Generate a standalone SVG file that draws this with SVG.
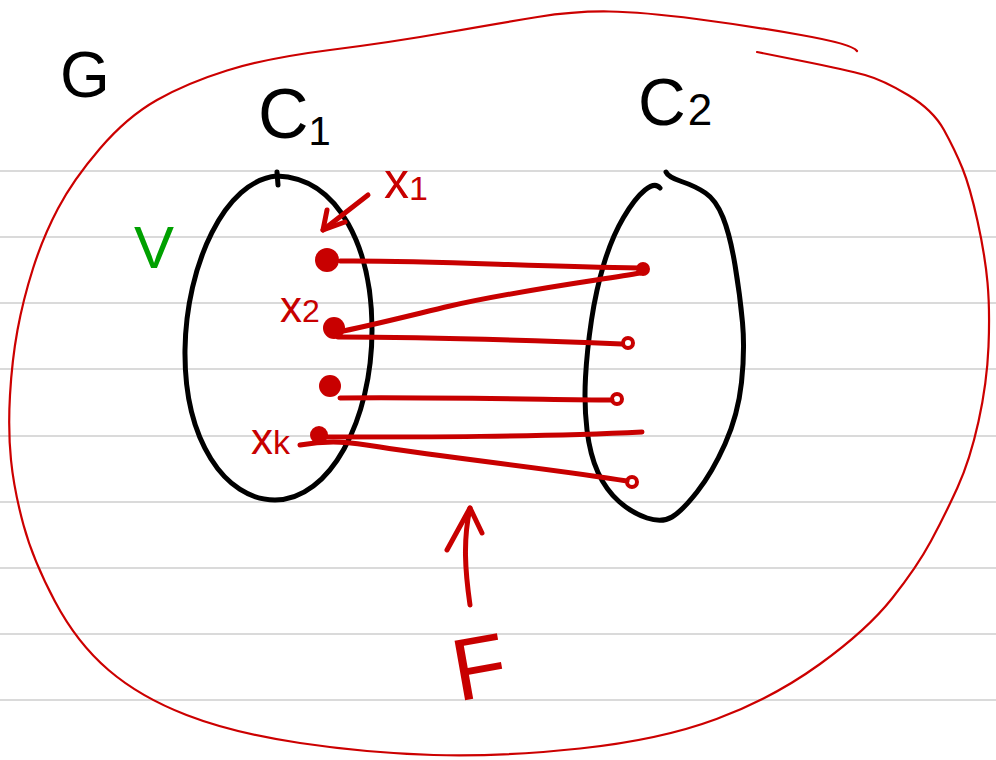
<svg xmlns="http://www.w3.org/2000/svg" width="996" height="760" viewBox="0 0 996 760">
<style>
.rule{stroke:#dadada;stroke-width:2.2;fill:none}
.outline{stroke:#cc0000;stroke-width:2.2;fill:none;stroke-linecap:round;stroke-linejoin:round}
.set{stroke:#000;stroke-width:5;fill:none;stroke-linecap:round;stroke-linejoin:round}
.edge{stroke:#c80000;stroke-width:5;fill:none;stroke-linecap:round;stroke-linejoin:round}
.loop{stroke:#c80000;stroke-width:4;fill:none}
.dot{fill:#c80000}
.blk{font-family:"Liberation Sans",Arial,sans-serif;fill:#000}
.red{font-family:"Liberation Sans",Arial,sans-serif;fill:#c80000}
.grn{font-family:"Liberation Sans",Arial,sans-serif;fill:#00a000}
</style>
<rect width="996" height="760" fill="#fff"/>
<g id="paper-rules">
<line class="rule" x1="0" y1="171" x2="996" y2="171"/>
<line class="rule" x1="0" y1="237" x2="996" y2="237"/>
<line class="rule" x1="0" y1="303" x2="996" y2="303"/>
<line class="rule" x1="0" y1="369" x2="996" y2="369"/>
<line class="rule" x1="0" y1="436" x2="996" y2="436"/>
<line class="rule" x1="0" y1="502" x2="996" y2="502"/>
<line class="rule" x1="0" y1="568" x2="996" y2="568"/>
<line class="rule" x1="0" y1="634" x2="996" y2="634"/>
<line class="rule" x1="0" y1="700" x2="996" y2="700"/>
</g>
<g id="graph-G">
<path class="outline" d="M857 51 Q852 44 801 35 Q750 26 696.5 19 Q643 12 609 11.5 Q575 11 537.5 17 Q500 23 446.5 32.5 Q393 42 330 50 Q267 58 227 70.5 Q187 83 157 100 Q127 117 100 148.5 Q73 180 58 208.5 Q43 237 33 268.5 Q23 300 17.5 330 Q12 360 10 395 Q8 430 11 460 Q14 490 23.5 525 Q33 560 55 601.5 Q77 643 108.5 670 Q140 697 186.5 715 Q233 733 300 743 Q367 753 433.5 755 Q500 757 580 748.5 Q660 740 716.5 719 Q773 698 820 664 Q867 630 892 598.5 Q917 567 931 541 Q945 515 957.5 487.5 Q970 460 978.5 421.5 Q987 383 988.5 346.5 Q990 310 987.5 282.5 Q985 255 977.5 221 Q970 187 962.5 168.5 Q955 150 944 130 Q933 110 908 95 Q883 80 865 75 Q847 70 802 61 L757 52"/>
<text class="blk" x="60" y="97" font-size="64">G</text>
<text class="grn" x="134" y="268" font-size="60">V</text>
</g>
<g id="C1">
<path class="set" d="M277 176 C225 180 186 265 185 350 C184 440 225 500 275 500 C330 500 372 420 372 330 C372 250 340 178 277 176 Z"/>
<path class="set" d="M277 172 L278 185"/>
<text class="blk" x="258" y="138" font-size="70">C<tspan font-size="40" dy="7">1</tspan></text>
</g>
<g id="C2">
<path class="set" d="M660 188 Q655 182 645 190 Q635 198 623.5 217.5 Q612 237 604 263.5 Q596 290 591.5 320 Q587 350 585.5 377.5 Q584 405 587 430 Q590 455 598 472.5 Q606 490 619 501.5 Q632 513 647 518 Q662 523 672 517 Q682 511 697 492 Q712 473 725 444 Q738 415 741.5 382.5 Q745 350 742.5 322.5 Q740 295 735 265 Q730 235 723 217.5 Q716 200 705.5 193 Q695 186 681.5 181.5 Q668 177 666 172"/>
<text class="blk" x="638" y="125" font-size="66">C<tspan font-size="44" dx="2">2</tspan></text>
</g>
<g id="vertices">
<g id="x1"><circle class="dot" cx="327" cy="260" r="12"/><text class="red" x="384" y="198" font-size="50">x<tspan font-size="34" dy="2">1</tspan></text></g>
<g id="x2"><circle class="dot" cx="334" cy="328" r="11"/><text class="red" x="280" y="322" font-size="44">x<tspan font-size="32">2</tspan></text></g>
<g id="x3"><circle class="dot" cx="330" cy="386" r="11"/></g>
<g id="xk"><circle class="dot" cx="319" cy="435" r="9"/><text class="red" x="251" y="454" font-size="44">x<tspan font-size="34">k</tspan></text></g>
<g id="y1"><circle class="dot" cx="643" cy="269" r="7"/></g>
<g id="y2"><circle class="loop" cx="628" cy="343" r="5"/></g>
<g id="y3"><circle class="loop" cx="617" cy="399" r="5"/></g>
<g id="y5"><circle class="loop" cx="632" cy="482" r="5"/></g>
</g>
<g id="connectors">
<path class="edge" d="M340 261 C420 260 520 266 640 268"/>
<path class="edge" d="M640 273 C600 280 520 290 450 306 C400 318 360 328 338 332"/>
<path class="edge" d="M338 337 C420 337 520 340 622 344"/>
<path class="edge" d="M340 398 C420 397 520 399 612 400"/>
<path class="edge" d="M320 437 C420 437 540 437 642 432"/>
<path class="edge" d="M300 445 C330 440 350 442 380 447 C450 458 560 470 627 481"/>
<path class="edge" d="M368 195 L323 230"/>
<path class="edge" d="M327 210 L323 230 L345 222"/>
<path class="edge" d="M470 605 C465 570 463 540 470 508"/>
<path class="edge" d="M447 550 L470 508 L482 533"/>
</g>
<g id="label-F">
<text class="red" x="452" y="697" font-size="88" transform="rotate(-10 480 665)">F</text>
</g>
</svg>
